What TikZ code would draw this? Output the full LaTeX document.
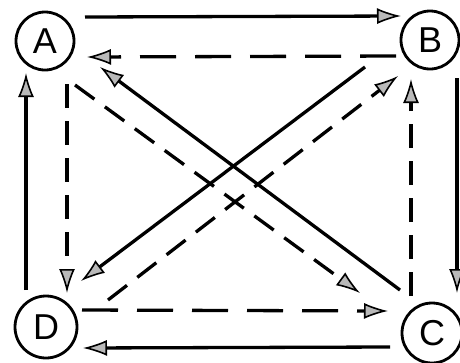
\documentclass[tikz,border=0pt]{standalone}
\usepackage{fontspec}
\setmainfont{Liberation Sans}
\usetikzlibrary{arrows.meta}
\begin{document}
\begin{tikzpicture}[x=1pt,y=-1pt,
  state/.style={circle,draw,line width=2.8pt,minimum size=#1,inner sep=0pt,font=\fontsize{36}{36}\selectfont},
  link/.style={line width=3.3pt,-{Latex[length=24pt,width=16pt,line width=1.6pt,open,fill=gray!55]}},
  dlink/.style={link,dash pattern=on 24pt off 13pt},
  hdlink/.style={link,dash pattern=on 36pt off 19pt}]
\useasboundingbox (0,0) rectangle (460,362);
\node[state=58pt] (A) at (45,41) {A};
\node[state=58pt] (B) at (430,40) {B};
\node[state=62pt] (D) at (46,327) {D};
\node[state=60pt] (C) at (432,333) {C};
% endpoints
\coordinate (ab1) at (85,17);   \coordinate (ab2) at (401,16);
\coordinate (ba1) at (396,56);  \coordinate (ba2) at (87,57);
\coordinate (da1) at (26,290);  \coordinate (da2) at (26,73);
\coordinate (ad1) at (67,84);   \coordinate (ad2) at (67,293);
\coordinate (bc1) at (457,78);  \coordinate (bc2) at (457,293);
\coordinate (cb1) at (411,296); \coordinate (cb2) at (411,79);
\coordinate (dc1) at (82,310);  \coordinate (dc2) at (388,311);
\coordinate (cd1) at (390,347); \coordinate (cd2) at (83,348);
\coordinate (ca1) at (400,290); \coordinate (ca2) at (100,67);
\coordinate (ac1) at (75,85);   \coordinate (ac2) at (360,293);
\coordinate (bd1) at (365,67);  \coordinate (bd2) at (81,281);
\coordinate (db1) at (108,300); \coordinate (db2) at (398,76);
% connectors
\draw[link]   (ab1) -- (ab2);
\draw[hdlink] (ba1) -- (ba2);
\draw[link]   (da1) -- (da2);
\draw[dlink]  (ad1) -- (ad2);
\draw[link]   (bc1) -- (bc2);
\draw[dlink]  (cb1) -- (cb2);
\draw[hdlink] (dc1) -- (dc2);
\draw[link]   (cd1) -- (cd2);
\draw[link]   (ca1) -- (ca2);
\draw[dlink]  (ac1) -- (ac2);
\draw[link]   (bd1) -- (bd2);
\draw[dlink]  (db1) -- (db2);
\end{tikzpicture}
\end{document}
